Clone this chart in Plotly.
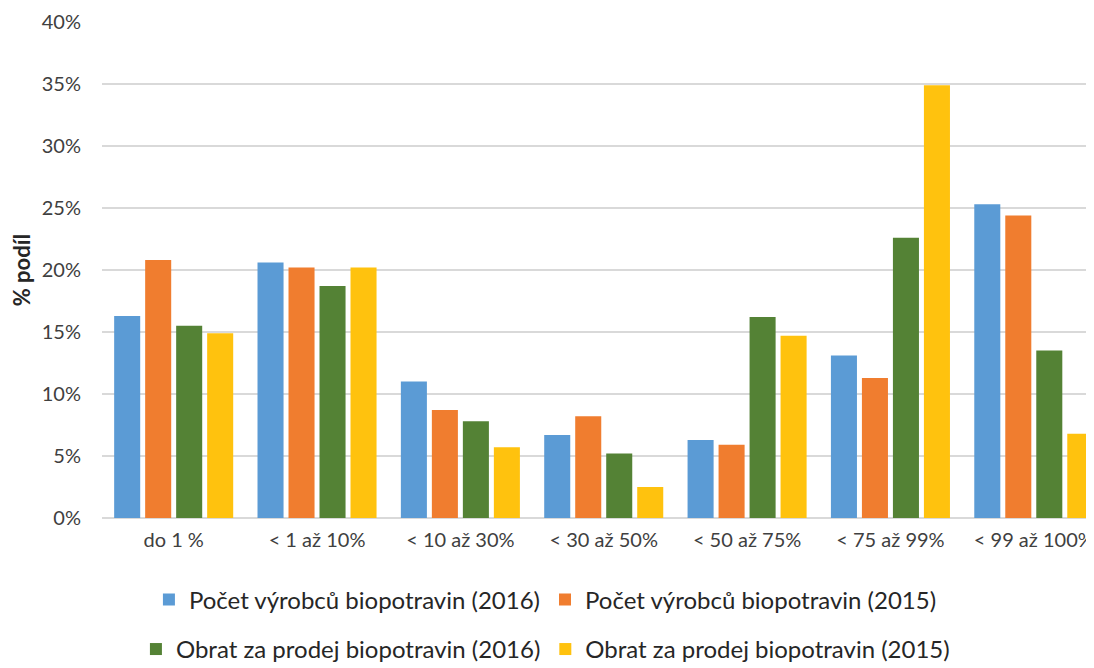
import plotly.graph_objects as go

categories = ['do 1 %', '< 1 až 10%', '< 10 až 30%', '< 30 až 50%', '< 50 až 75%', '< 75 až 99%', '< 99 až 100%']

pocet_2016 = [16.3, 20.6, 11.0, 6.7, 6.3, 13.1, 25.3]
pocet_2015 = [20.8, 20.2, 8.7, 8.2, 5.9, 11.3, 24.4]
obrat_2016 = [15.5, 18.7, 7.8, 5.2, 16.2, 22.6, 13.5]
obrat_2015 = [14.9, 20.2, 5.7, 2.5, 14.7, 34.9, 6.8]

y_ticks = [0, 5, 10, 15, 20, 25, 30, 35, 40]
y_tick_labels = [f'{v}%' for v in y_ticks]

series = [
    ('Počet výrobců biopotravin (2016)', pocet_2016, '#5B9BD5', 'legend'),
    ('Počet výrobců biopotravin (2015)', pocet_2015, '#F07D2F', 'legend'),
    ('Obrat za prodej biopotravin (2016)', obrat_2016, '#548235', 'legend2'),
    ('Obrat za prodej biopotravin (2015)', obrat_2015, '#FFC20E', 'legend2'),
]

FONT = 'Lato'
TEXT = '#404040'

fig = go.Figure()
for name, vals, color, leg in series:
    fig.add_trace(go.Bar(
        x=categories,
        y=vals,
        name=name,
        marker=dict(color=color, line=dict(width=0)),
        legend=leg,
    ))

# page body adds ~8px offset, so the figure is a bit smaller than the window
legend_style = dict(
    orientation='h',
    xanchor='center',
    x=0.447,
    yanchor='middle',
    font=dict(family=FONT, size=24, color='#262626'),
    bgcolor='rgba(0,0,0,0)',
    itemwidth=30,
    traceorder='normal',
)

fig.update_layout(
    barmode='group',
    bargap=0.135,
    bargroupgap=0.16,
    width=1086,
    height=660,
    paper_bgcolor='white',
    plot_bgcolor='white',
    margin=dict(l=94, r=0, t=14, b=150, autoexpand=False),
    font=dict(family=FONT, color=TEXT),
    xaxis=dict(
        range=[-0.5, 6.42],
        tickfont=dict(family=FONT, size=20, color=TEXT),
        showgrid=False,
        showline=False,
        ticks='',
        ticklabelstandoff=8,
    ),
    yaxis=dict(
        range=[0, 40],
        tickvals=y_ticks,
        ticktext=y_tick_labels,
        tickfont=dict(family=FONT, size=20, color=TEXT),
        showgrid=True,
        gridcolor='#D9D9D9',
        gridwidth=1.5,
        zeroline=True,
        zerolinecolor='#D9D9D9',
        zerolinewidth=1.5,
        ticks='',
        ticklabelstandoff=20,
        title=dict(text='% podíl', font=dict(family=FONT, size=22, color='#262626', weight='bold'), standoff=6),
    ),
    legend=dict(legend_style, y=-0.165),
    legend2=dict(legend_style, y=-0.265),
)

fig.write_html("out.html")
